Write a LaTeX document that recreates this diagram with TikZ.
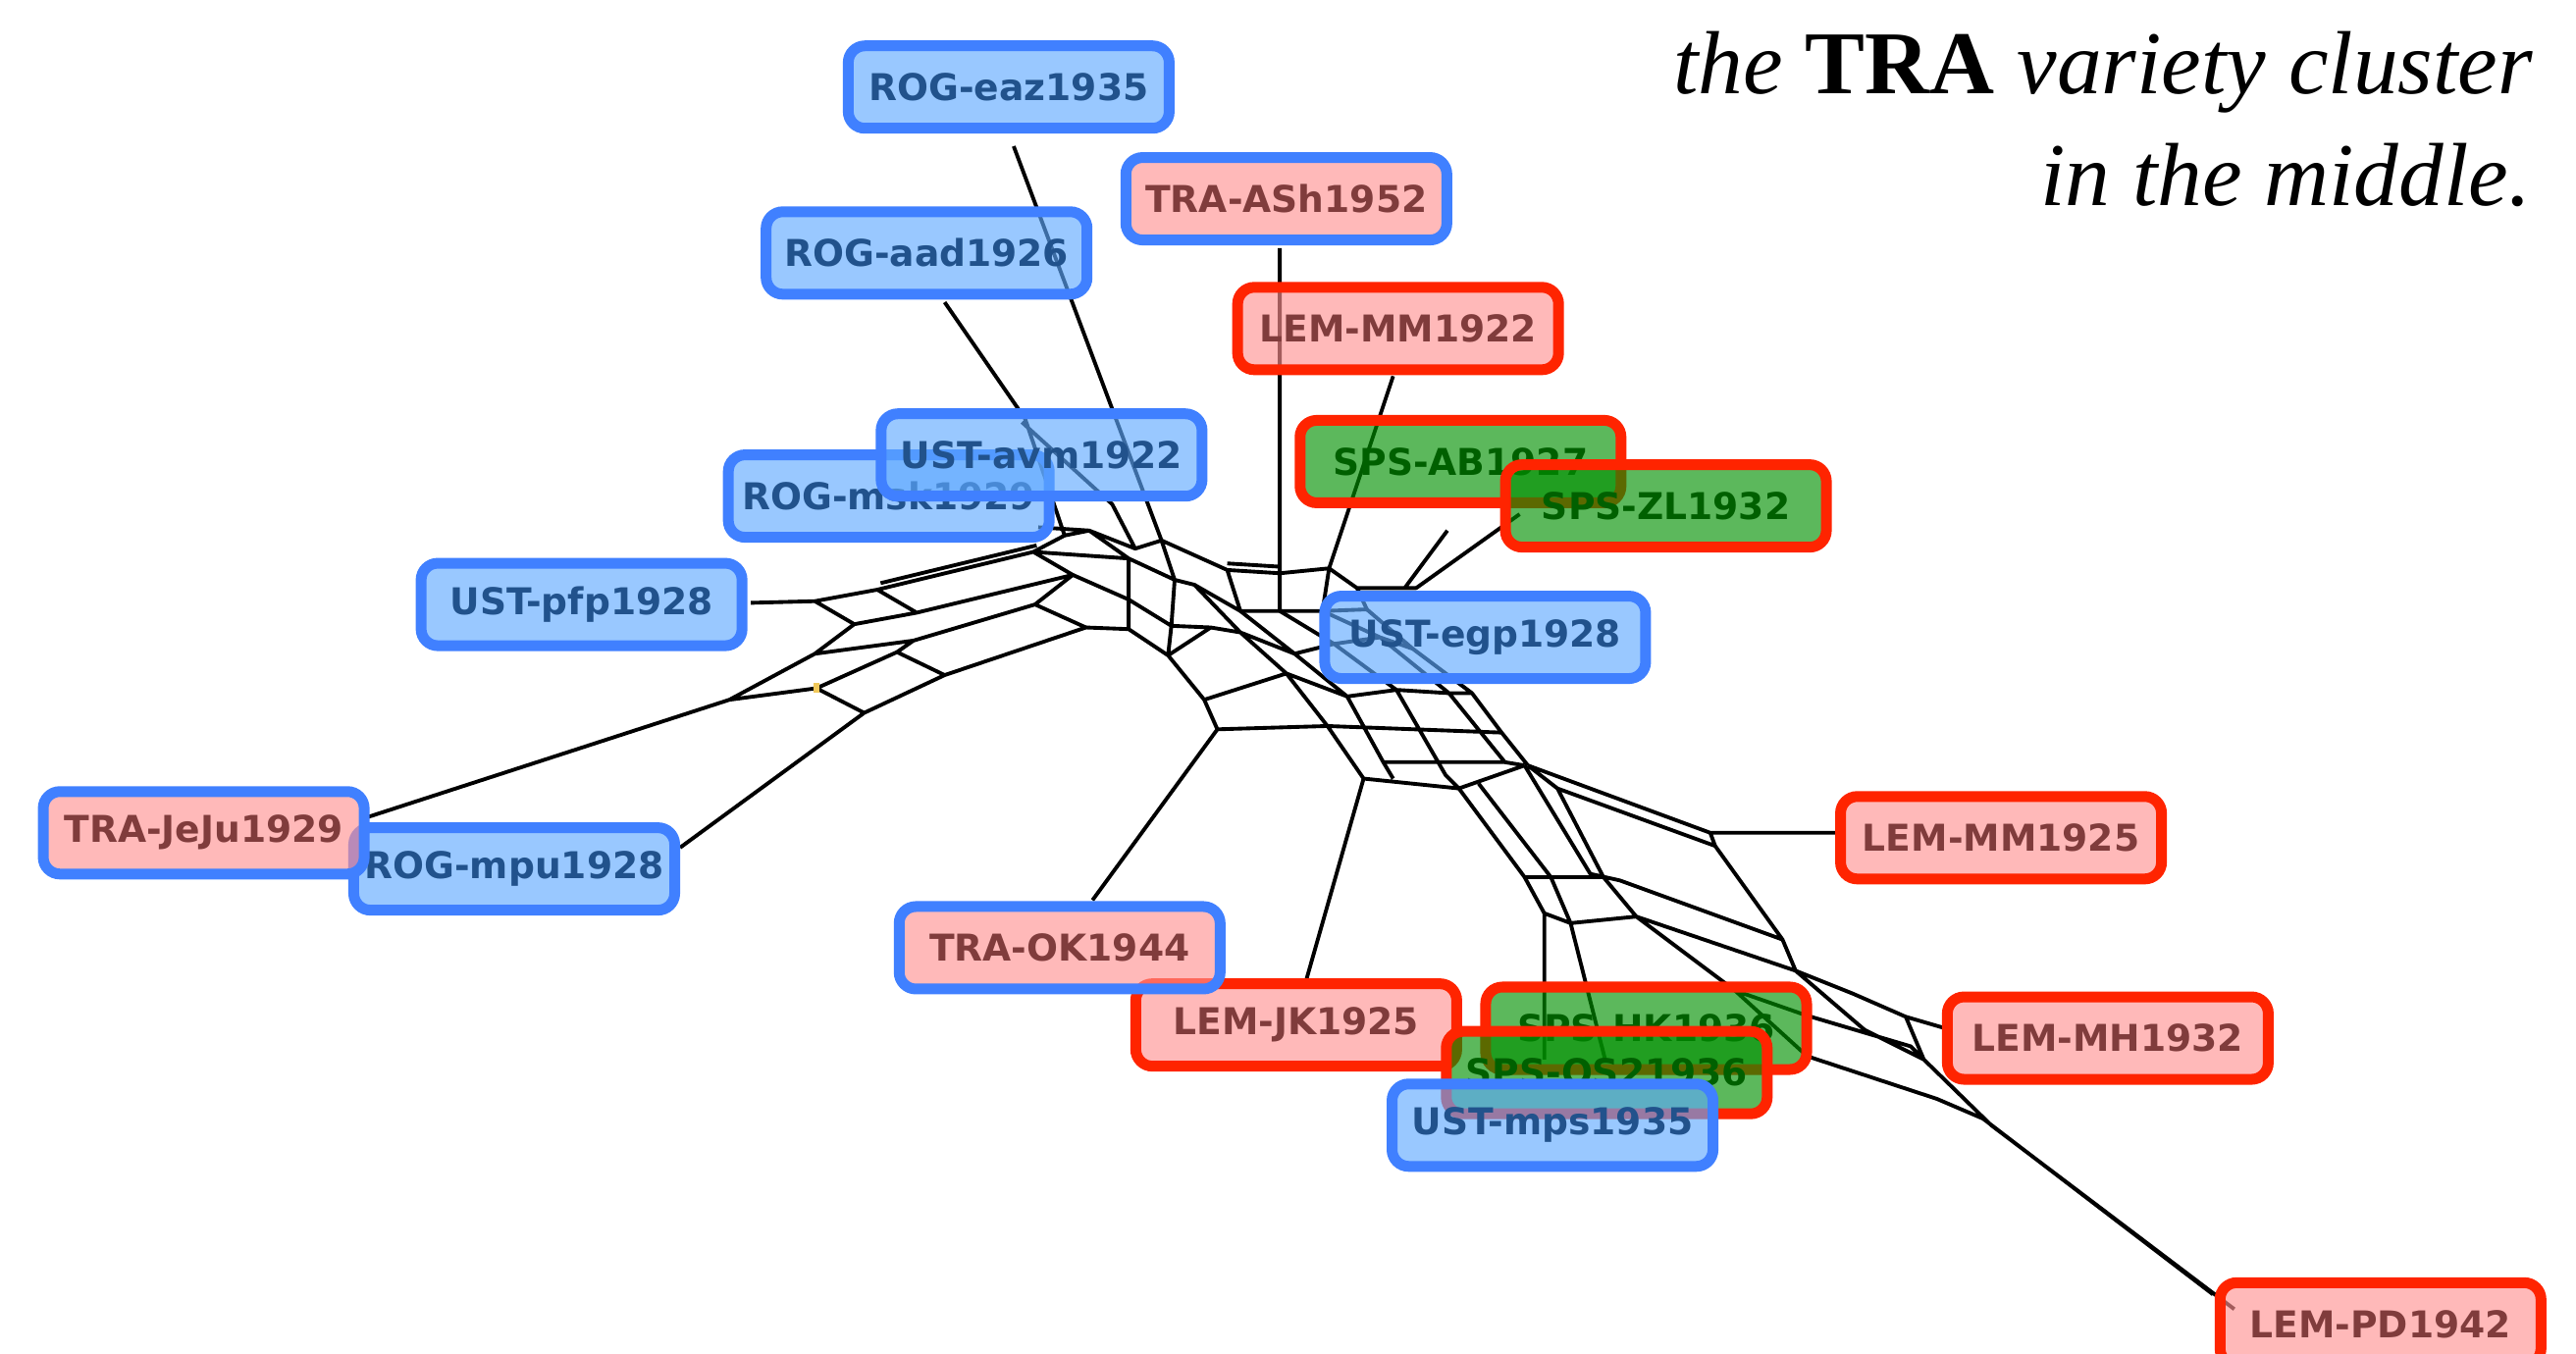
\documentclass[tikz,border=0pt]{standalone}
\usepackage{fontspec}
\newfontfamily\labfont{DejaVu Sans}
\newfontfamily\titlefont{Liberation Serif}
\definecolor{bordblue}{RGB}{64,128,255}
\definecolor{bordred}{RGB}{255,36,0}
\definecolor{fillblue}{RGB}{95,169,255}
\definecolor{fillpink}{RGB}{255,145,145}
\definecolor{fillgreen}{RGB}{0,144,0}
\definecolor{txtblue}{RGB}{33,82,140}
\definecolor{txtpink}{RGB}{128,60,60}
\definecolor{txtgreen}{RGB}{0,96,0}
\definecolor{dotyellow}{RGB}{240,200,90}
\tikzset{
  taxon/.style={rectangle, rounded corners=0.17cm, line width=0.11cm,
    minimum width=3.27cm, minimum height=0.84cm, inner sep=0pt,
    font=\labfont\bfseries\fontsize{10.7}{12}\selectfont,
    fill opacity=0.64, text opacity=1},
  rog/.style={taxon, draw=bordblue, fill=fillblue, text=txtblue},
  tra/.style={taxon, draw=bordblue, fill=fillpink, text=txtpink},
  lem/.style={taxon, draw=bordred, fill=fillpink, text=txtpink},
  sps/.style={taxon, draw=bordred, fill=fillgreen, text=txtgreen},
  net/.style={line width=1.1pt, line join=round},
  titletext/.style={anchor=base east, inner sep=0pt,
    font=\titlefont\itshape\fontsize{26}{32}\selectfont}
}
\begin{document}
\begin{tikzpicture}[x=0.01674cm,y=-0.01674cm]
\useasboundingbox (0,0) rectangle (1568,824);
% pendant ends
\path (457,367) coordinate (pfpE) (219,499) coordinate (jejuE) (414,516) coordinate (mpuE)
  (575,184) coordinate (aadE) (622,257) coordinate (avmE) (632,321) coordinate (mskE)
  (617,89) coordinate (eazE) (779,151) coordinate (ashE) (848,229) coordinate (mmaE)
  (881,323) coordinate (abE) (925,313) coordinate (zlE) (665,548) coordinate (okE)
  (795,597) coordinate (jkE) (940,645) coordinate (hkE) (977,645) coordinate (osE)
  (1118,507) coordinate (mmbE) (1184,626) coordinate (mhE) (1360,797) coordinate (pdE);
% left wing
\path (496,366) coordinate (a0) (534,359) coordinate (a1) (520,380) coordinate (a2) (558,373) coordinate (a3)
  (444,426) coordinate (b0) (496,398) coordinate (b1) (497,419) coordinate (b2)
  (546,397) coordinate (b3) (556,390) coordinate (b4) (526,434) coordinate (c0) (575,411) coordinate (c1)
  (629,336) coordinate (e1) (648,326) coordinate (e2) (653,350) coordinate (e3)
  (630,368) coordinate (e4) (661,382) coordinate (f0) (624,255) coordinate (aad1) (677,307) coordinate (avm1);
% core
\path (663,323) coordinate (g1) (691,334) coordinate (g2) (707,329) coordinate (g3) (747,347) coordinate (h1)
  (779,349) coordinate (h2) (809,346) coordinate (h3) (826,358) coordinate (h4)
  (687,340) coordinate (q1) (715,353) coordinate (q2) (727,356) coordinate (q3) (755,372) coordinate (q4)
  (779,372) coordinate (q5) (805,372) coordinate (q6) (832,371) coordinate (q7)
  (687,365) coordinate (r1) (713,381) coordinate (r2) (737,382) coordinate (r3)
  (687,383) coordinate (s1) (711,399) coordinate (s2) (733,426) coordinate (s3) (741,444) coordinate (s4)
  (855,358) coordinate (ab1) (862,358) coordinate (zl1);
\path (755,385) coordinate (d11) (783,410) coordinate (d12) (808,442) coordinate (d13) (830,474) coordinate (d14)
  (788,398) coordinate (d21) (820,424) coordinate (d22) (842,464) coordinate (d23) (848,474) coordinate (d24)
  (812,392) coordinate (d31) (850,420) coordinate (d32) (880,472) coordinate (d33) (888,480) coordinate (d34)
  (840,388) coordinate (d41) (882,422) coordinate (d42) (916,464) coordinate (d43) (928,466) coordinate (d44)
  (860,395) coordinate (d51) (896,422) coordinate (d52) (914,446) coordinate (d53) (930,466) coordinate (d54);
% right wing
\path (928,534) coordinate (v1) (940,556) coordinate (v2) (900,477) coordinate (w0) (944,534) coordinate (w1)
  (956,562) coordinate (w2) (968,532) coordinate (x1) (986,536) coordinate (x2)
  (948,480) coordinate (y0) (976,534) coordinate (y1) (996,558) coordinate (y2)
  (1041,507) coordinate (mm1) (1044,515) coordinate (mm2)
  (1085,572) coordinate (n1) (1093,591) coordinate (n2) (1128,605) coordinate (n3) (1160,619) coordinate (n4)
  (1171,645) coordinate (n5) (1135,627) coordinate (n6)
  (1056,603) coordinate (z2) (1099,618) coordinate (z3) (1163,637) coordinate (z4)
  (1100,643) coordinate (z5) (1179,669) coordinate (z6) (1207,681) coordinate (z7)
  (1212,685) coordinate (p1) (1347,788) coordinate (pdF);
% splits network
\draw[net] (pfpE)--(a0)--(a1)--(a3)--(a2)--(a0) (jejuE)--(b0)--(b1)--(a2) (b0)--(b2)--(b3)--(b4)--(b1)
  (b2)--(c0)--(c1)--(b3) (mpuE)--(c0) (a1)--(e1)--(e2) ([shift={(2,-4)}]a1)--([shift={(2,-4)}]e1)
  (a3)--(e3)--(e1) (b4)--(e4)--(e3) (e4)--(f0)--(c1);
\draw[net] (aadE)--(aad1)--(e2)--(g1)--(g2)--(g3)--(h1)--(h2)--(h3)--(h4)
  ([shift={(0,-4)}]h1)--([shift={(0,-4)}]h2) (avmE)--(avm1)--(g2) (mskE)--(g1) (eazE)--(g3)
  (ashE)--(h2) (mmaE)--(h3) (abE)--(ab1)--(h4) (zlE)--(zl1)--(h4)
  (e1)--(q1)--(q2)--(q3)--(q4)--(q5)--(q6)--(q7) (g1)--(q1) (g3)--(q2)
  (e3)--(r1)--(r2)--(r3) (q1)--(r1) (q2)--(r2) (f0)--(s1)--(s2)--(s3)--(s4) (r1)--(s1) (r2)--(s2)--(r3)
  (h1)--(q4) (h2)--(q5) (h3)--(q6) (h4)--(q7) (okE)--(s4);
\draw[net] (q3)--(d11)--(d12)--(d13)--(d14) (q4)--(d21)--(d22)--(d23)--(d24)
  (q5)--(d31)--(d32)--(d33)--(d34) (q6)--(d41)--(d42)--(d43)--(d44) (q7)--(d51)--(d52)--(d53)--(d54)
  (r3)--(d11)--(d21)--(d31)--(d41)--(d51) (s3)--(d12)--(d22)--(d32)--(d42)--(d52) (s4)--(d13)--(d53)
  (d23)--(d43) (d14)--(d34)--(d44) (jkE)--(d14);
\draw[net] (d34)--(v1)--(v2) (w0)--(w1)--(w2) (d44)--(x1)--(x2) (d54)--(y0)--(y1)--(y2)
  (v1)--(y1) (v2)--(w2)--(y2) (v2)--(hkE) (w2)--(osE)
  (d54)--(mm1)--(mm2) (y0)--(mm2) (mm1)--(mmbE) (x2)--(n1) (y2)--(n2)
  (mm2)--(n1)--(n2)--(n3)--(n4)--(mhE) (n4)--(n5) (n2)--(n6)--(n5)
  (y2)--(z2)--(z3)--(z4)--(n5) (z2)--(z5)--(z6)--(z7) (n5)--(p1)--(pdE) (z7)--(pdF);
\fill[dotyellow] ([shift={(-2,-3)}]b2) rectangle ([shift={(2,3)}]b2);
% taxa
\node[rog] (eaz) at (614,53) {ROG-eaz1935};
\node[tra] (ash) at (783,121) {TRA-ASh1952};
\node[rog] (aad) at (564,154) {ROG-aad1926};
\node[lem] (mma) at (851,200) {LEM-MM1922};
\node[rog] (msk) at (541,302) {ROG-msk1929};
\node[rog] (avm) at (634,277) {UST-avm1922};
\node[sps] (ab) at (889,281) {SPS-AB1927};
\node[sps] (zl) at (1014,308) {SPS-ZL1932};
\node[rog] (pfp) at (354,368) {UST-pfp1928};
\node[rog] (egp) at (904,388) {UST-egp1928};
\node[rog] (mpu) at (313,529) {ROG-mpu1928};
\node[tra] (jeju) at (124,507) {TRA-JeJu1929};
\node[lem] (mmb) at (1218,510) {LEM-MM1925};
\node[lem] (jk) at (789,624) {LEM-JK1925};
\node[tra] (ok) at (645,577) {TRA-OK1944};
\node[sps] (hk) at (1002,626) {SPS-HK1936};
\node[sps] (os) at (978,653) {SPS-OS21936};
\node[rog] (mps) at (945,685) {UST-mps1935};
\node[lem] (mh) at (1283,632) {LEM-MH1932};
\node[lem] (pd) at (1449,806) {LEM-PD1942};
% caption
\node[titletext] (cap1) at (1542,57) {the {\upshape\bfseries TRA} variety cluster};
\node[titletext] (cap2) at (1541,125) {in the middle.};
\end{tikzpicture}
\end{document}
